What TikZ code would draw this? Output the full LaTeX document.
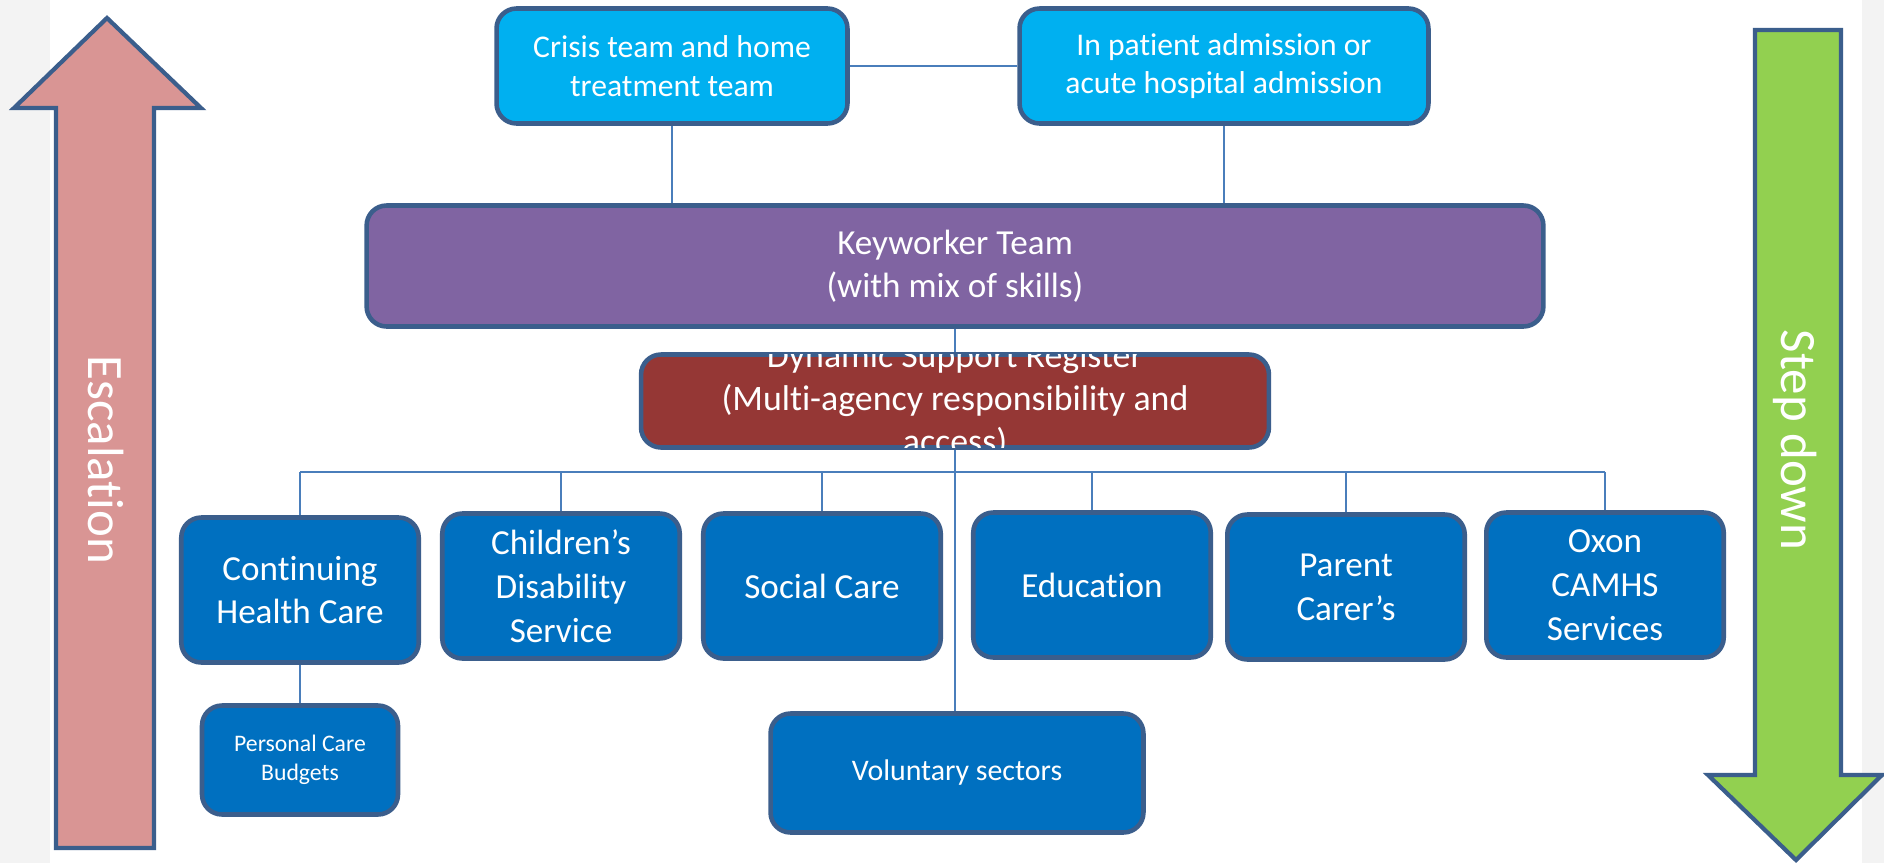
\documentclass[tikz,border=0pt]{standalone}
\usepackage{fontspec}
\setmainfont{Carlito}[Ligatures=NoCommon]
\usetikzlibrary{positioning}
\definecolor{boxline}{HTML}{3B5E8C}
\definecolor{linkline}{HTML}{4A7EBB}
\definecolor{cyanfill}{HTML}{00B0F0}
\definecolor{purplefill}{HTML}{8064A2}
\definecolor{redfill}{HTML}{953735}
\definecolor{bluefill}{HTML}{0070C0}
\definecolor{pinkfill}{HTML}{D99594}
\definecolor{greenfill}{HTML}{92D050}
\definecolor{sidegray}{HTML}{F3F3F3}

\begin{document}
\begin{tikzpicture}[
    % GLOBAL CFG: one unit is one pixel of the page
    x=0.02cm, y=-0.02cm,
    % Styles
    box/.style={% For every rounded box
        rectangle,
        rounded corners=0.4cm,
        draw=boxline,
        line width=2.6pt,
        text=white,
        align=center,
        inner sep=2pt,
        },
    topbox/.style={% For the two boxes on top
        box,
        fill=cyanfill,
        minimum height=2.3cm,
        font=\fontsize{18}{22}\selectfont,
        },
    teambox/.style={% For the keyworker team
        box,
        fill=purplefill,
        font=\fontsize{20}{24.5}\selectfont,
        },
    regbox/.style={% For the register
        box,
        fill=redfill,
        },
    service/.style={% For the services in the row
        box,
        fill=bluefill,
        minimum width=4.75cm,
        minimum height=2.9cm,
        font=\fontsize{20}{25}\selectfont,
        },
    link/.style={% Thin connectors
        draw=linkline,
        line width=0.9pt,
        },
    bigarrow/.style={% The two side arrows
        draw=boxline,
        line width=2.4pt,
        },
    arrowtext/.style={% Text along the side arrows
        text=white,
        rotate=-90,
        font=\fontsize{29}{34}\selectfont,
        },
    ]

    % Page
    \fill [sidegray] (0,0) rectangle (1884,863);
    \fill [white] (50,0) rectangle (1862,863);
    \useasboundingbox (0,0) rectangle (1884,863);

    % Side arrows
    \draw [bigarrow, fill=pinkfill] (56,848) -- (56,108) -- (14,108) -- (107,18)
        -- (201,108) -- (154,108) -- (154,848) -- cycle;
    \draw [bigarrow, fill=greenfill] (1755,30) -- (1841,30) -- (1841,775) -- (1882,775)
        -- (1796,860) -- (1708,775) -- (1755,775) -- cycle;
    \node [arrowtext] (esc) at (106,460) {Escalation};
    \node [arrowtext] (stepdown) at (1795,440) {Step down};

    % Top boxes
    \node [topbox, minimum width=7.02cm] (crisis) at (672,66) {Crisis team and home\\treatment team};
    \node [topbox, minimum width=8.18cm] (inpat) at (1224,66) {In patient admission or\\acute hospital admission};

    % Keyworker and register
    \node [teambox, minimum width=23.54cm, minimum height=2.42cm] (keyw) at (955,266) {Keyworker Team\\(with mix of skills)};
    \node [regbox, minimum width=12.56cm, minimum height=1.86cm] (dsr) at (955,401) {};
    \begin{scope}
        \clip ([shift={(-1pt,1.5pt)}]dsr.south west) rectangle ([shift={(1pt,-1.5pt)}]dsr.north east);
        \node [text=white, align=center, font=\fontsize{20.4}{24.5}\selectfont] (dsrtext) at (dsr.center)
            {Dynamic Support Register\\(Multi-agency responsibility and\\access)};
    \end{scope}

    % Services named by what they are
    \node [service] (chc) at (300,590) {Continuing\\Health Care};
    \node [service] (cds) at (561,586) {Children’s\\Disability\\Service};
    \node [service] (soc) at (822,586) {Social Care};
    \node [service] (edu) at (1092,585) {Education};
    \node [service] (par) at (1346,587) {Parent\\Carer’s};
    \node [service] (oxon) at (1605,585) {Oxon\\CAMHS\\Services};
    \node [box, fill=bluefill, minimum width=3.92cm, minimum height=2.18cm,
        font=\fontsize{13.5}{16.5}\selectfont] (pcb) at (300,760) {Personal Care\\Budgets};
    \node [box, fill=bluefill, minimum width=7.46cm, minimum height=2.38cm,
        font=\fontsize{17}{21}\selectfont] (vol) at (957,773) {Voluntary sectors};

    % Connectors
    \draw [link] (crisis.east) -- (inpat.west);
    \draw [link] (crisis.south) -- (crisis.south |- keyw.north);
    \draw [link] (inpat.south) -- (inpat.south |- keyw.north);
    \draw [link] (keyw.south) -- (dsr.north);
    \draw [link] (dsr.south) -- (dsr.south |- vol.north);
    \coordinate (bus) at (0,472);
    \draw [link] (chc.north |- bus) -- (oxon.north |- bus);
    \foreach \s in {chc,cds,soc,edu,par,oxon}
        \draw [link] (\s.north |- bus) -- (\s.north);
    \draw [link] (chc.south) -- (pcb.north);

\end{tikzpicture}
\end{document}
